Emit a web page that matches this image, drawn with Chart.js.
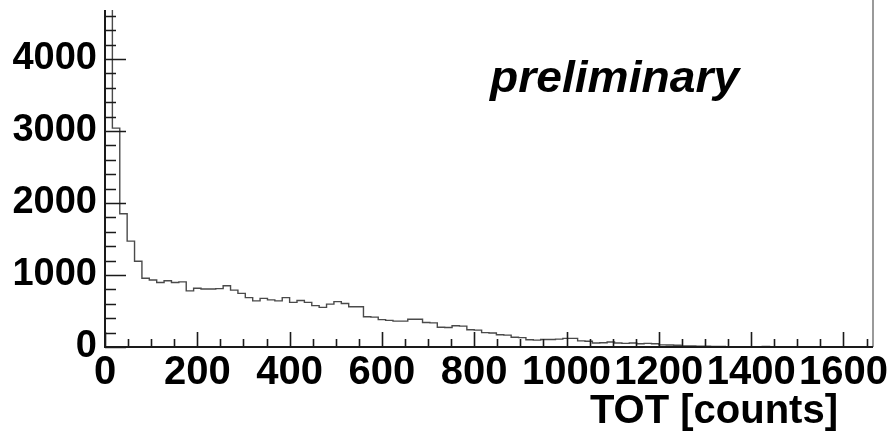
<!DOCTYPE html>
<html>
<head>
<meta charset="utf-8">
<script src="https://cdn.jsdelivr.net/npm/chart.js@4/dist/chart.umd.min.js"></script>
<style>
  html, body { margin: 0; padding: 0; background: #ffffff; }
  #wrap { width: 895px; height: 441px; position: relative; }
</style>
</head>
<body>
<div id="wrap"><canvas id="c" width="895" height="441"></canvas></div>
<script>
// Histogram of TOT values, 16-count bins starting at 0
const binWidth = 16;
const binCounts = [
  5000, 3040, 1850, 1470, 1190, 955, 930, 895, 920, 895,
  905, 780, 815, 805, 805, 810, 850, 790, 745, 685,
  640, 675, 655, 640, 685, 620, 645, 620, 575, 550,
  595, 630, 605, 560, 560, 420, 415, 380, 370, 360,
  360, 385, 385, 340, 335, 275, 270, 295, 290, 240,
  235, 200, 195, 170, 165, 135, 130, 100, 95, 105,
  105, 110, 120, 120, 85, 80, 55, 60, 70, 55,
  50, 55, 45, 50, 45, 30, 28, 25, 15, 15,
  12, 12, 8, 6, 5, 4, 2, 2, 4, 6,
  5, 3, 2, 1, 1, 1, 0, 1, 0, 0,
  1, 0, 0, 0
];
const xTickValues = [0, 200, 400, 600, 800, 1000, 1200, 1400, 1600];
const yTickValues = [0, 1000, 2000, 3000, 4000];
const xRange = [0, 1664];
const yRange = [0, 4680];
const xTitle = 'TOT [counts]';
const noteText = 'preliminary';

// step outline: one point per bin left edge, plus the closing right edge
const outline = binCounts.map((v, i) => ({ x: i * binWidth, y: v }));
outline.push({ x: binCounts.length * binWidth, y: binCounts[binCounts.length - 1] });

const FONT = '"Liberation Sans", Arial, Helvetica, sans-serif';

// inward major/minor tick marks, frame edge and free text
const framePlugin = {
  id: 'frame',
  afterDraw(chart) {
    const ctx = chart.ctx;
    const xs = chart.scales.x, ys = chart.scales.y;
    const a = chart.chartArea;
    ctx.save();
    // right frame edge
    ctx.strokeStyle = '#9a9a9a';
    ctx.lineWidth = 2;
    ctx.beginPath();
    ctx.moveTo(a.right, 0);
    ctx.lineTo(a.right, a.bottom);
    ctx.stroke();

    ctx.strokeStyle = '#1a1a1a';
    ctx.lineWidth = 1.6;
    ctx.beginPath();
    // y ticks (major every 1000, minor every 200)
    for (let v = 0; v <= yRange[1]; v += 200) {
      const py = Math.round(ys.getPixelForValue(v)) + 0.5;
      const len = (v % 1000 === 0) ? 21 : 11;
      ctx.moveTo(a.left, py);
      ctx.lineTo(a.left + len, py);
    }
    // x ticks (major every 200, minor every 50)
    for (let v = 0; v <= xRange[1]; v += 50) {
      const px = Math.round(xs.getPixelForValue(v)) + 0.5;
      const len = (v % 200 === 0) ? 15 : 8;
      ctx.moveTo(px, a.bottom);
      ctx.lineTo(px, a.bottom - len);
    }
    ctx.stroke();

    // axes lines
    ctx.lineWidth = 2;
    ctx.beginPath();
    ctx.moveTo(a.left, a.top);
    ctx.lineTo(a.left, a.bottom);
    ctx.lineTo(a.right, a.bottom);
    ctx.stroke();

    // axis title, right aligned
    ctx.fillStyle = '#000';
    ctx.font = 'bold 40px ' + FONT;
    ctx.textAlign = 'right';
    ctx.textBaseline = 'alphabetic';
    ctx.fillText(xTitle, 838, 423);

    // note
    ctx.font = 'italic bold 44px ' + FONT;
    ctx.textAlign = 'left';
    ctx.translate(490, 92);
    ctx.scale(1.05, 1);
    ctx.fillText(noteText, 0, 0);
    ctx.restore();
  }
};

new Chart(document.getElementById('c'), {
  type: 'line',
  data: {
    datasets: [{
      data: outline,
      stepped: 'before',
      borderColor: '#4a4a4a',
      borderWidth: 1.4,
      pointRadius: 0,
      fill: false,
      tension: 0
    }]
  },
  options: {
    responsive: false,
    animation: false,
    events: [],
    layout: { padding: { top: 10, right: 22, left: 0, bottom: 0 } },
    plugins: { legend: { display: false }, tooltip: { enabled: false } },
    scales: {
      x: {
        type: 'linear',
        min: xRange[0],
        max: xRange[1],
        afterBuildTicks: s => { s.ticks = xTickValues.map(v => ({ value: v })); },
        afterFit: s => { s.height = 94; },
        grid: { display: false, drawTicks: false },
        border: { display: false },
        ticks: {
          autoSkip: false,
          maxRotation: 0,
          minRotation: 0,
          padding: 2,
          color: '#000',
          font: { family: FONT, size: 40, weight: 'bold' },
          callback: v => String(v)
        }
      },
      y: {
        type: 'linear',
        min: yRange[0],
        max: yRange[1],
        afterBuildTicks: s => { s.ticks = yTickValues.map(v => ({ value: v })); },
        afterFit: s => { s.width = 105; s.paddingTop = 0; s.paddingBottom = 0; },
        grid: { display: false, drawTicks: false },
        border: { display: false },
        ticks: {
          autoSkip: false,
          padding: 8,
          color: '#000',
          font: { family: FONT, size: 38, weight: 'bold' },
          callback: v => String(v)
        }
      }
    }
  },
  plugins: [framePlugin]
});
</script>
</body>
</html>
